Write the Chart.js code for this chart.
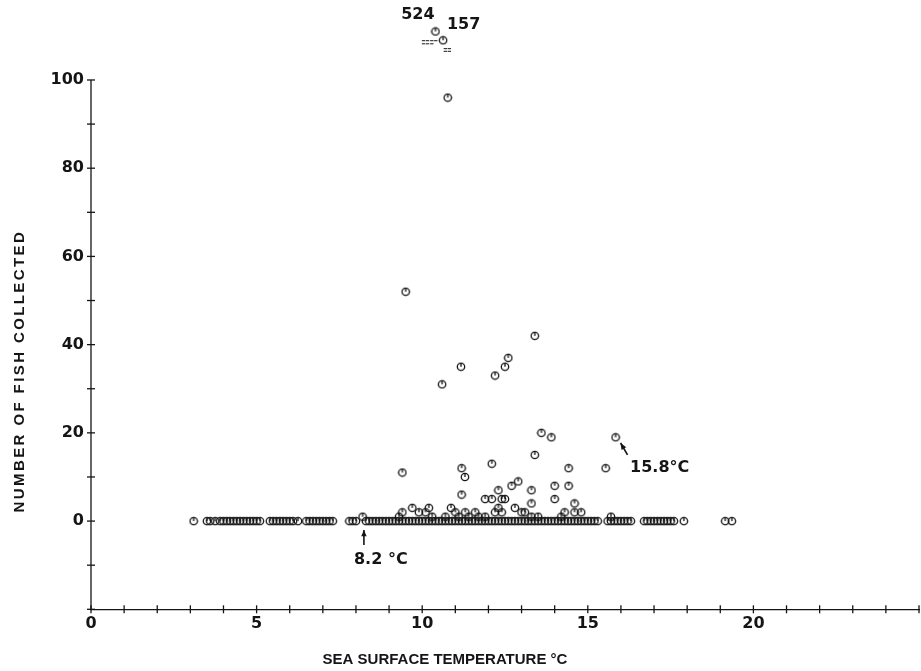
<!DOCTYPE html>
<html>
<head>
<meta charset="utf-8">
<script src="https://cdn.jsdelivr.net/npm/chart.js@4.4.0/dist/chart.umd.min.js"></script>
<style>
html, body { margin: 0; padding: 0; background: #fff; }
</style>
</head>
<body>
<canvas id="fishChart" width="921" height="671"></canvas>
<script>
// sea surface temperatures (C) of the tows with no fish
var zeroTemps = [3.1,
    3.5, 3.6,
    3.75, 3.9, 4.0, 4.1, 4.2, 4.3, 4.4, 4.5, 4.6, 4.7, 4.8, 4.9, 5.0, 5.1,
    5.4, 5.5, 5.6, 5.7, 5.8, 5.9, 6.0, 6.1, 6.25,
    6.5, 6.6, 6.7, 6.8, 6.9, 7.0, 7.1, 7.2, 7.3,
    7.8, 7.9, 8.0,
    8.3, 8.4, 8.5, 8.6, 8.7, 8.8, 8.9, 9.0, 9.1, 9.2, 9.3, 9.4, 9.5, 9.6, 9.7, 9.8, 9.9,
    10.0, 10.1, 10.2, 10.3, 10.4, 10.5, 10.6, 10.7, 10.8, 10.9, 11.0, 11.1, 11.2, 11.3, 11.4,
    11.5, 11.6, 11.7, 11.8, 11.9, 12.0, 12.1, 12.2, 12.3, 12.4, 12.5, 12.6, 12.7, 12.8, 12.9,
    13.0, 13.1, 13.2, 13.3, 13.4, 13.5, 13.6, 13.7, 13.8, 13.9, 14.0, 14.1, 14.2, 14.3, 14.4,
    14.5, 14.6, 14.7, 14.8, 14.9, 15.0, 15.1, 15.2, 15.3,
    15.6, 15.7, 15.8, 15.9, 16.0, 16.1, 16.2, 16.3,
    16.7, 16.8, 16.9, 17.0, 17.1, 17.2, 17.3, 17.4, 17.5, 17.6,
    17.9, 19.15, 19.35];

// tows with fish: temperature and number collected (first two plotted off scale: 524 and 157)
var catchTemps = [10.4, 10.63, 10.77, 9.5, 13.4, 12.6, 12.5, 11.17, 12.2, 10.6,
    13.6, 13.9, 15.84, 13.4, 9.4, 11.19, 11.29, 12.1, 14.42, 15.54,
    11.19, 12.3, 12.7, 12.9, 13.3, 14.0, 14.42, 11.9, 12.1, 12.4,
    12.5, 13.3, 14.0, 14.6, 9.7, 10.2, 9.9, 10.1, 9.4, 9.3,
    10.87, 11.0, 11.3, 11.6, 12.3, 12.2, 12.4, 12.8, 13.0, 13.1,
    14.3, 14.6, 14.8, 10.3, 10.7, 11.1, 11.4, 11.7, 11.9, 13.3,
    13.5, 14.2, 15.7, 8.2];
var catchCounts = [111, 109, 96, 52, 42, 37, 35, 35, 33, 31,
    20, 19, 19, 15, 11, 12, 10, 13, 12, 12,
    6, 7, 8, 9, 7, 8, 8, 5, 5, 5,
    5, 4, 5, 4, 3, 3, 2, 2, 2, 1,
    3, 2, 2, 2, 3, 2, 2, 3, 2, 2,
    2, 2, 2, 1, 1, 1, 1, 1, 1, 1,
    1, 1, 1, 1];

// dash marks stacked under the off-scale points
var breakTemps = [10.04, 10.16, 10.29, 10.41, 10.04, 10.16, 10.29, 10.70, 10.82, 10.70, 10.82];
var breakLevels = [108.9, 108.9, 108.9, 108.9, 108.2, 108.2, 108.2, 107.1, 107.1, 106.5, 106.5];

var xTickLabels = [0, 5, 10, 15, 20];
var yTickLabels = [0, 20, 40, 60, 80, 100];
var yAxisTop = 100;

var xTitle = 'SEA SURFACE TEMPERATURE \u00B0C';
var yTitle = 'NUMBER OF FISH COLLECTED';

// notes written on the plot, in data units
var noteText = ['524', '157', '8.2 \u00B0C', '15.8\u00B0C'];
var noteX = [9.87, 11.25, 8.75, 17.17];
var noteY = [114.7, 112.6, -8.8, 12.0];
var arrowFrom = [[8.24, -5.4], [16.2, 15.0]];
var arrowTo = [[8.24, -2.0], [15.99, 17.7]];

var labelFamily = "'DejaVu Sans', Verdana, sans-serif";
var titleFamily = "'Liberation Sans', Arial, Helvetica, sans-serif";
var ink = '#151515';

//********** MARKER ***********/
function makeMarker() {
    var c = document.createElement('canvas');
    c.width = 10;
    c.height = 10;
    var g = c.getContext('2d');
    g.strokeStyle = ink;
    g.lineWidth = 1.3;
    g.beginPath();
    g.arc(5, 5, 3.7, 0, Math.PI * 2);
    g.stroke();
    g.beginPath();
    g.moveTo(5, 1.5);
    g.lineTo(5, 5);
    g.stroke();
    return c;
}
var marker = makeMarker();

//********** PLUGINS ***********/
var axisMarks = {
    id: 'axisMarks',
    afterDraw: function(chart) {
        var ctx = chart.ctx, xs = chart.scales.x, ys = chart.scales.y;
        var x0 = xs.left, yBottom = ys.getPixelForValue(ys.min);
        ctx.save();
        ctx.strokeStyle = ink;
        ctx.lineWidth = 1.3;
        // y axis line stops at 100
        ctx.beginPath();
        ctx.moveTo(x0, yBottom);
        ctx.lineTo(x0, ys.getPixelForValue(yAxisTop));
        ctx.stroke();
        xs.ticks.forEach(function(t) {
            var px = xs.getPixelForValue(t.value);
            ctx.beginPath();
            ctx.moveTo(px, yBottom - 4);
            ctx.lineTo(px, yBottom + 4);
            ctx.stroke();
        });
        ys.ticks.forEach(function(t) {
            if (t.value > yAxisTop) return;
            var py = ys.getPixelForValue(t.value);
            ctx.beginPath();
            ctx.moveTo(x0 - 4, py);
            ctx.lineTo(x0 + 4, py);
            ctx.stroke();
        });

        // axis titles
        ctx.fillStyle = ink;
        ctx.textAlign = 'center';
        ctx.textBaseline = 'middle';
        ctx.font = 'bold 15px ' + titleFamily;
        ctx.fillText(xTitle, xs.left + 354, 660);
        ctx.save();
        ctx.translate(20, ys.getPixelForValue(34));
        ctx.rotate(-Math.PI / 2);
        ctx.letterSpacing = '2.4px';
        ctx.fillText(yTitle, 0, 0);
        ctx.restore();
        ctx.restore();
    }
};

var notes = {
    id: 'notes',
    afterDraw: function(chart) {
        var ctx = chart.ctx, xs = chart.scales.x, ys = chart.scales.y;
        ctx.save();
        ctx.fillStyle = ink;
        ctx.strokeStyle = ink;
        ctx.font = 'bold 16px ' + labelFamily;
        ctx.textAlign = 'center';
        ctx.textBaseline = 'middle';
        for (var i = 0; i < noteText.length; i++) {
            ctx.fillText(noteText[i], xs.getPixelForValue(noteX[i]), ys.getPixelForValue(noteY[i]));
        }
        ctx.lineWidth = 1.6;
        for (var j = 0; j < arrowFrom.length; j++) {
            var x0 = xs.getPixelForValue(arrowFrom[j][0]), y0 = ys.getPixelForValue(arrowFrom[j][1]);
            var x1 = xs.getPixelForValue(arrowTo[j][0]), y1 = ys.getPixelForValue(arrowTo[j][1]);
            var a = Math.atan2(y1 - y0, x1 - x0);
            ctx.beginPath();
            ctx.moveTo(x0, y0);
            ctx.lineTo(x1, y1);
            ctx.stroke();
            ctx.beginPath();
            ctx.moveTo(x1, y1);
            ctx.lineTo(x1 - 7 * Math.cos(a - 0.4), y1 - 7 * Math.sin(a - 0.4));
            ctx.lineTo(x1 - 7 * Math.cos(a + 0.4), y1 - 7 * Math.sin(a + 0.4));
            ctx.closePath();
            ctx.fill();
        }
        ctx.restore();
    }
};

//********** CHART ***********/
var zeroPoints = [];
for (var i = 0; i < zeroTemps.length; i++) zeroPoints.push({ x: zeroTemps[i], y: 0 });
var catchPoints = [];
for (var k = 0; k < catchTemps.length; k++) catchPoints.push({ x: catchTemps[k], y: catchCounts[k] });
var breakPoints = [];
for (var b = 0; b < breakTemps.length; b++) breakPoints.push({ x: breakTemps[b], y: breakLevels[b] });

var tickFont = { family: labelFamily, size: 16, weight: 'bold' };

var ctx = document.getElementById('fishChart').getContext('2d');
var chart = new Chart(ctx, {
    type: 'scatter',
    data: {
        datasets: [{
                label: 'No fish',
                data: zeroPoints,
                pointStyle: marker
            },
            {
                label: 'Fish collected',
                data: catchPoints,
                pointStyle: marker
            },
            {
                label: 'Off scale',
                data: breakPoints,
                pointStyle: 'line',
                radius: 1.7,
                borderWidth: 1,
                borderColor: ink
            }
        ]
    },
    options: {
        responsive: false,
        animation: false,
        events: [],
        layout: { autoPadding: false, padding: { top: 9.4, right: 2, left: 0, bottom: 0 } },
        plugins: { legend: { display: false }, tooltip: { enabled: false } },
        scales: {
            x: {
                type: 'linear',
                min: 0,
                max: 25,
                grid: { display: false, drawTicks: false },
                border: { display: true, color: ink, width: 1.3 },
                ticks: {
                    stepSize: 1,
                    autoSkip: false,
                    maxRotation: 0,
                    padding: 5,
                    color: ink,
                    font: tickFont,
                    callback: function(v) { return xTickLabels.indexOf(v) >= 0 ? String(v) : ''; }
                },
                afterFit: function(s) {
                    s.height = 61.7;
                    s.paddingLeft = 0;
                    s.paddingRight = 0;
                }
            },
            y: {
                type: 'linear',
                min: -20,
                max: 116,
                grid: { display: false, drawTicks: false },
                border: { display: false },
                ticks: {
                    stepSize: 10,
                    autoSkip: false,
                    padding: 7,
                    color: ink,
                    font: tickFont,
                    callback: function(v) { return yTickLabels.indexOf(v) >= 0 ? String(v) : ''; }
                },
                afterFit: function(s) {
                    s.width = 91;
                    s.paddingTop = 0;
                    s.paddingBottom = 0;
                }
            }
        }
    },
    plugins: [axisMarks, notes]
});
</script>
</body>
</html>
